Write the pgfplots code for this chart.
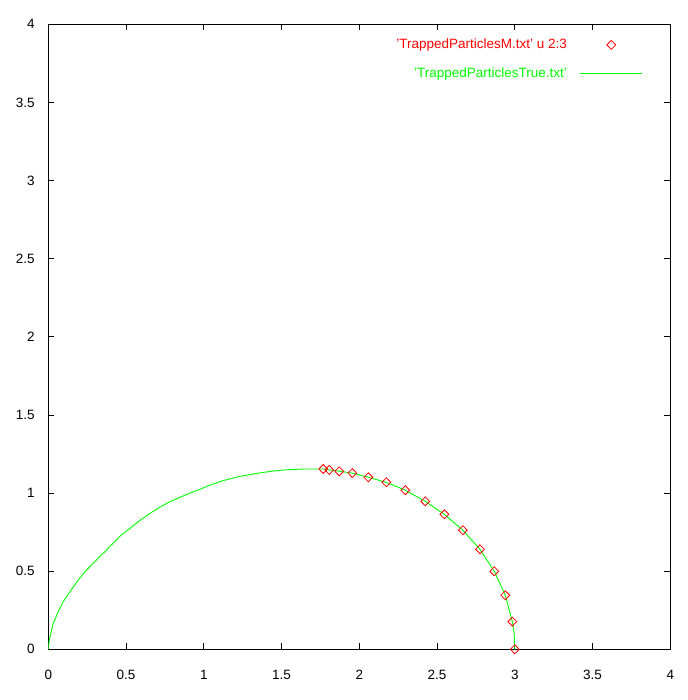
\documentclass[border=0pt]{standalone}
\usepackage{fontspec}
\setmainfont{Liberation Sans}
\usepackage{pgfplots}
\pgfplotsset{compat=1.18}
\definecolor{gred}{RGB}{255,0,0}
\definecolor{ggreen}{RGB}{0,255,0}
\pgfplotsset{
  markleg/.style={legend image code/.code={\draw[mark repeat=2, mark phase=2, ##1, only marks] plot coordinates {(0pt,0pt) (31pt,0pt) (62pt,0pt)};}},
  lineleg/.style={legend image code/.code={\draw[##1] (0pt,0pt) -- (62pt,0pt);}},
}
\begin{document}
\fontsize{13.5}{16}\selectfont
\begin{tikzpicture}
\begin{axis}[
  at={(0pt,0pt)}, anchor=south west,
  scale only axis, width=622pt, height=625pt,
  xmin=0, xmax=4, ymin=0, ymax=4,
  xtick={0,0.5,...,4}, ytick={0,0.5,...,4},
  tick align=inside, major tick length=6pt,
  every tick/.style={black, line width=0.8pt},
  axis line style={black, line width=0.9pt},
  /pgf/number format/assume math mode=true,
  ticklabel style={font=\fontsize{13.5}{16}\selectfont},
  xticklabel style={yshift=-16pt},
  yticklabel style={xshift=-9pt},
  legend style={at={(rel axis cs:0.956,0.980)}, anchor=north east, draw=none, fill=none,
    legend plot pos=right, cells={anchor=east}, row sep=13pt,
    font=\fontsize{13.5}{16}\selectfont, inner sep=0pt,
    /tikz/every odd column/.append style={column sep=11pt}},
]
\addplot[only marks, mark=diamond, mark size=4.5pt, gred, mark options={line width=0.8pt, xscale=1.3}, markleg]
coordinates {
(1.768,1.154) (1.807,1.148) (1.871,1.139) (1.955,1.128) (2.058,1.101)
(2.174,1.069) (2.296,1.018) (2.424,0.947) (2.547,0.864) (2.666,0.762)
(2.776,0.640) (2.868,0.499) (2.939,0.346) (2.984,0.177) (3.000,0.000)
};
\addlegendentry{\textcolor{gred}{'TrappedParticlesM.txt' u 2:3}}
\addplot[ggreen, line width=0.9pt, no marks, lineleg]
coordinates {
(0,0) (0.004,0.040) (0.011,0.081) (0.032,0.166) (0.064,0.241) (0.096,0.305)
(0.118,0.337) (0.150,0.384) (0.193,0.444) (0.236,0.497) (0.300,0.561)
(0.343,0.606) (0.365,0.624) (0.397,0.660) (0.429,0.689) (0.461,0.724)
(0.525,0.774) (0.590,0.826) (0.654,0.870) (0.718,0.910) (0.783,0.945)
(0.847,0.973) (0.911,1.000) (0.976,1.024) (1.029,1.047) (1.125,1.080)
(1.233,1.107) (1.340,1.126) (1.447,1.141) (1.533,1.149) (1.650,1.154)
(1.768,1.154) (1.807,1.148) (1.871,1.140) (1.955,1.127) (2.058,1.101)
(2.174,1.068) (2.296,1.018) (2.424,0.947) (2.547,0.864) (2.666,0.762)
(2.776,0.640) (2.868,0.499) (2.939,0.346) (2.984,0.177) (2.996,0.100)
(3.000,0.000)
};
\addlegendentry{\textcolor{ggreen}{'TrappedParticlesTrue.txt'}}
\end{axis}
\path (-48.3pt,-50.7pt) rectangle (638.7pt,649.3pt);
\end{tikzpicture}
\end{document}
